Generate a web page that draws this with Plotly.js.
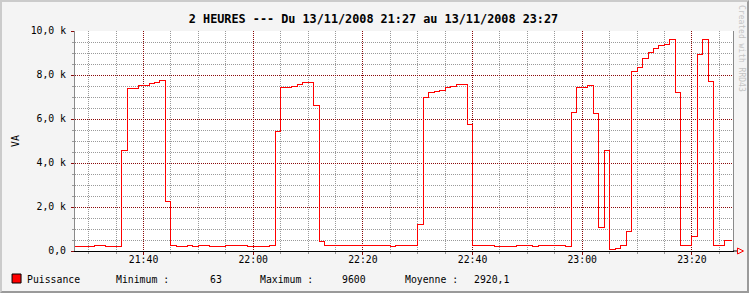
<!DOCTYPE html>
<html><head><meta charset="utf-8">
<script src="https://cdn.plot.ly/plotly-3.0.1.min.js"></script>
<style>
html,body{margin:0;padding:0;background:#f4f4f4;}
#wrap{position:relative;width:749px;height:293px;}
#chart{width:749px;height:293px;}
#frame{position:absolute;left:0;top:0;width:749px;height:293px;box-sizing:border-box;border-style:solid;border-width:2px;border-color:#cbcbcb #9a9a9a #9a9a9a #cbcbcb;pointer-events:none;}
.scatterlayer path{shape-rendering:crispEdges;}
.gridlayer path{shape-rendering:crispEdges;}
</style></head><body>
<div id="wrap"><div id="chart"></div><div id="frame"></div></div>
<script>
const day = '2008-11-13 ';
const times = ['21:27','21:31','21:33','21:36','21:37','21:39','21:41','21:42','21:43','21:44','21:45','21:46','21:48','21:49','21:50','21:52','21:55','21:59','22:03','22:04','22:05','22:07','22:08','22:09','22:11','22:12','22:13','22:25','22:26','22:30','22:31','22:32','22:33','22:34','22:35','22:36','22:37','22:39','22:40','22:44','22:48','22:51','22:52','22:57','22:58','22:59','23:01','23:02','23:03','23:04','23:05','23:06','23:07','23:08','23:09','23:10','23:11','23:12','23:13','23:14','23:15','23:16','23:17','23:18','23:20','23:21','23:22','23:23','23:24','23:26','23:27:20'];
const puissance = [220,265,220,4580,7390,7530,7620,7670,7730,2260,265,220,265,220,265,220,265,220,265,5410,7450,7500,7580,7670,6620,450,265,220,265,1210,6990,7200,7260,7300,7440,7500,7580,5730,265,220,265,220,265,220,6300,7440,7530,6260,1080,4580,63,100,230,890,8170,8350,8740,9030,9210,9320,9380,9600,7210,265,640,8940,9600,7710,265,480,480];
const yTickVals = [0,2000,4000,6000,8000,10000];
const yTickText = ['0,0','2,0 k','4,0 k','6,0 k','8,0 k','10,0 k'];
const seriesName = 'Puissance';
const statLabels = ['Minimum :','Maximum :','Moyenne :'];
const statValues = ['63','9600','2920,1'];
const titleText = '2 HEURES --- Du 13/11/2008 21:27 au 13/11/2008 23:27';

const FONT = 'DejaVu Sans Mono';
const L = 75, R = 733.5, T = 31, B = 251;
const px = x => (x - L) / (R - L);
const py = y => (B - y) / (B - T);

const xs = times.map(t => day + t + (t.length === 5 ? ':00' : ''));

const trace = {
  x: xs, y: puissance, type: 'scatter', mode: 'lines', name: seriesName,
  line: {shape: 'hv', color: '#ff0000', width: 1}, hoverinfo: 'skip'
};

const majorGrid = '#8b0a0a', minorGrid = '#9a9a9a';
const ann = [];
function txt(t, x, y, anchor, extra) {
  ann.push(Object.assign({text: t, xref: 'paper', yref: 'paper', x: px(x), y: py(y),
    xanchor: anchor, yanchor: 'middle', showarrow: false,
    font: {family: FONT, size: 9.8, color: '#000'}}, extra || {}));
}
txt(seriesName, 24.5, 279, 'left');
txt(statLabels[0], 114.5, 279, 'left');
txt(statValues[0], 224, 279, 'right');
txt(statLabels[1], 258.5, 279, 'left');
txt(statValues[1], 368.5, 279, 'right');
txt(statLabels[2], 403, 279, 'left');
txt(statValues[2], 511.5, 279, 'right');
txt('Created with RRD43', 741.5, 49, 'center', {textangle: 90, font: {family: FONT, size: 8, color: '#c4c4c4'}});

const layout = {
  width: 749, height: 293,
  paper_bgcolor: '#f4f4f4', plot_bgcolor: '#ffffff',
  margin: {l: L, r: 749 - R, t: T, b: 293 - B, pad: 0},
  showlegend: false,
  title: {text: titleText, x: 0.4987, xanchor: 'center', y: 1 - 18.5 / 293, yanchor: 'middle', yref: 'container',
    font: {family: FONT, size: 11.8, color: '#000', weight: 'bold'}},
  xaxis: {
    type: 'date', range: [day + '21:27:30', day + '23:27:30'],
    tick0: day + '21:40:00', dtick: 1200000, tickformat: '%H:%M',
    showgrid: true, gridcolor: majorGrid, griddash: '1px,1px', gridwidth: 1,
    ticks: 'outside', ticklen: 3, tickcolor: majorGrid, tickwidth: 1,
    showline: true, linecolor: '#000000', linewidth: 1, mirror: false, zeroline: false,
    tickfont: {family: FONT, size: 9.8, color: '#000'}, ticklabelstandoff: -4,
    minor: {tick0: day + '21:40:00', dtick: 300000, showgrid: true, gridcolor: minorGrid, griddash: '1px,1px', gridwidth: 1,
      ticks: 'outside', ticklen: 2, tickcolor: minorGrid}
  },
  yaxis: {
    range: [0, 10000], tickmode: 'array', tickvals: yTickVals, ticktext: yTickText,
    showgrid: true, gridcolor: majorGrid, griddash: '1px,1px', gridwidth: 1,
    ticks: 'outside', ticklen: 3, tickcolor: majorGrid, tickwidth: 1,
    showline: true, linecolor: '#8a8a8a', linewidth: 1, mirror: true, zeroline: false,
    tickfont: {family: FONT, size: 9.8, color: '#000'}, ticklabelstandoff: 3,
    title: {text: 'VA', font: {family: FONT, size: 9.8, color: '#000'}, standoff: 9},
    minor: {tick0: 0, dtick: 500, showgrid: true, gridcolor: minorGrid, griddash: '1px,1px', gridwidth: 1,
      ticks: 'outside', ticklen: 2, tickcolor: minorGrid}
  },
  annotations: ann,
  shapes: [
    {type: 'rect', xref: 'paper', yref: 'paper', x0: px(12), x1: px(21), y0: py(283), y1: py(274),
      fillcolor: '#ff0000', line: {color: '#000000', width: 1}},
    {type: 'line', xref: 'paper', yref: 'paper', x0: 1, x1: px(738), y0: 0, y1: 0, line: {color: '#000', width: 1}},
    {type: 'path', xref: 'paper', yref: 'paper',
      path: `M ${px(738)} ${py(248)} L ${px(744)} ${py(251)} L ${px(738)} ${py(254)} Z`,
      fillcolor: 'rgba(0,0,0,0)', line: {color: '#ff0000', width: 1}}
  ]
};

Plotly.newPlot('chart', [trace], layout, {staticPlot: true});
</script>
</body></html>
